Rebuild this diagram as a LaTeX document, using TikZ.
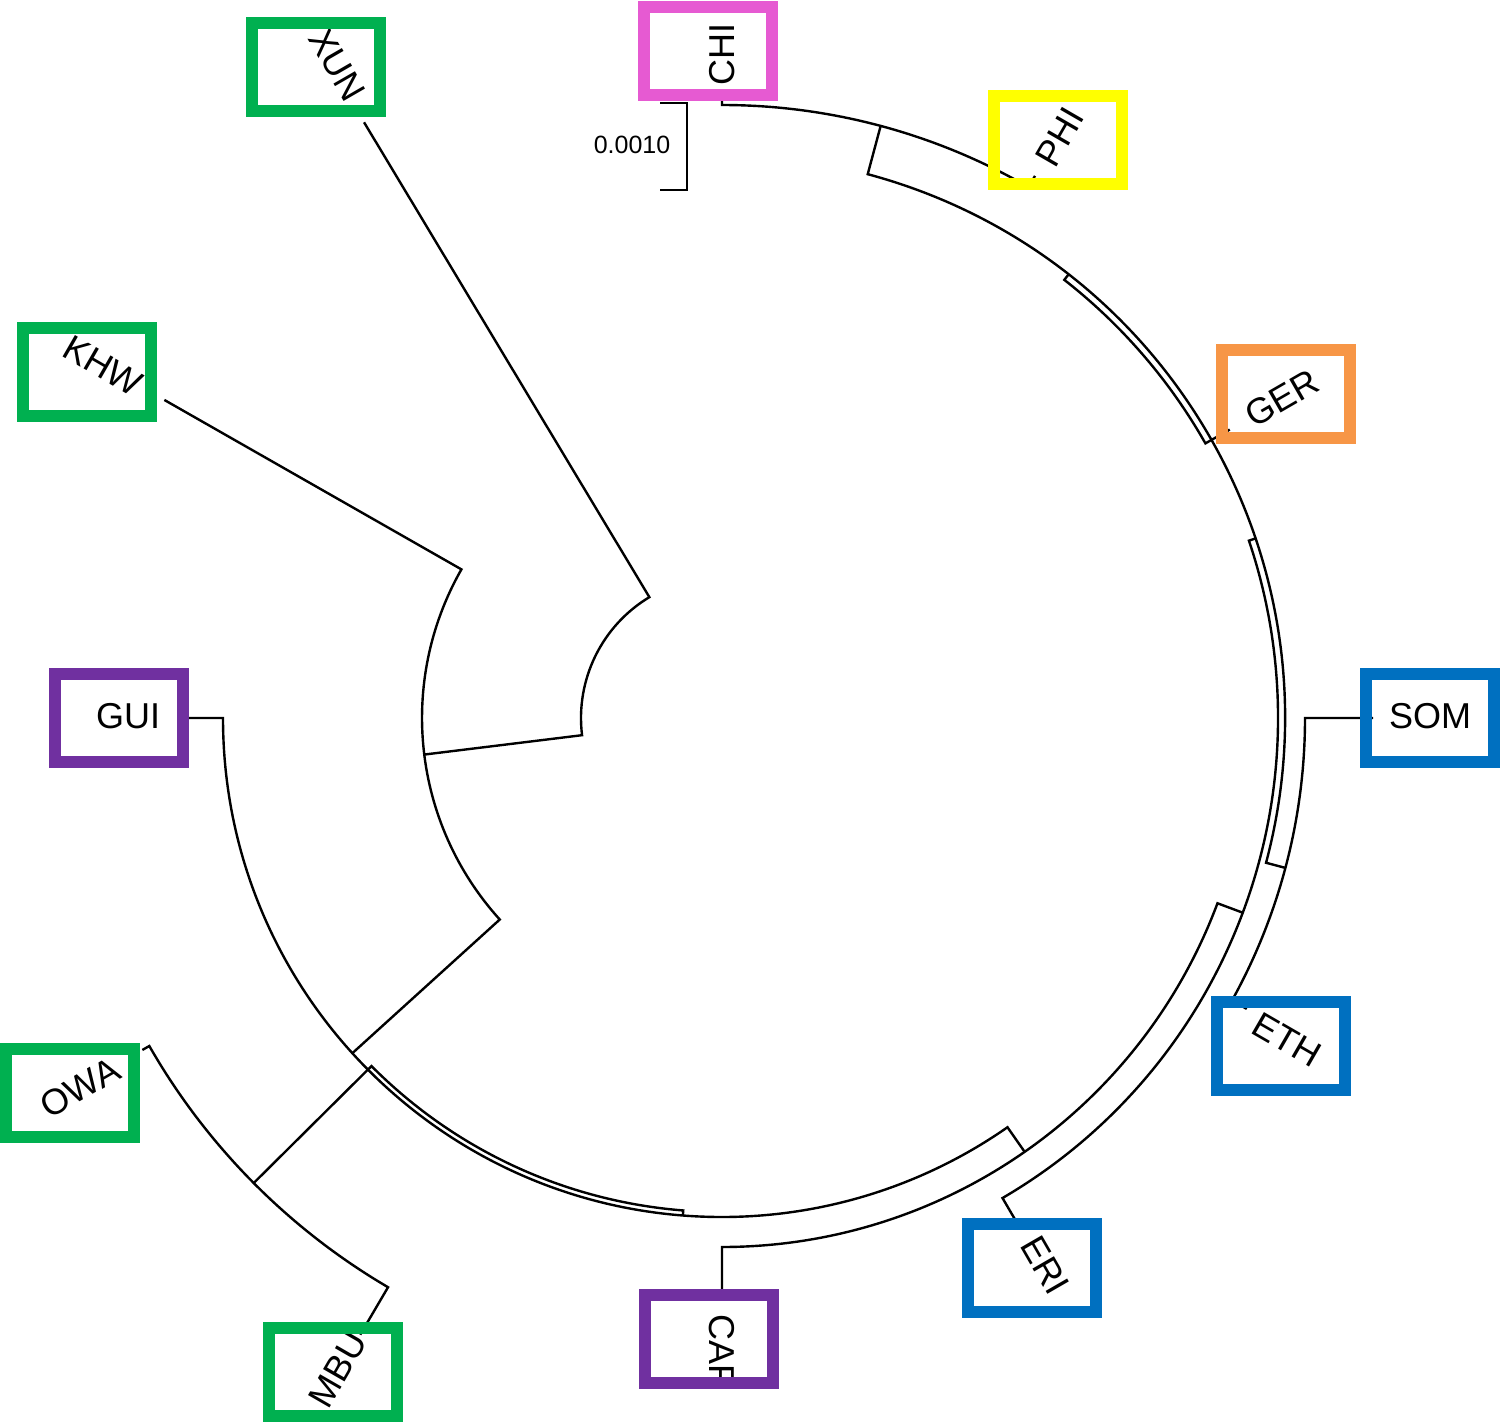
\documentclass[tikz,border=0pt]{standalone}
\usepackage{fontspec}
\setmainfont{Liberation Sans}
\definecolor{cgreen}{RGB}{0,176,80}
\definecolor{cmag}{RGB}{230,90,210}
\definecolor{cyel}{RGB}{255,255,0}
\definecolor{corange}{RGB}{247,150,70}
\definecolor{cblue}{RGB}{0,112,192}
\definecolor{cpurple}{RGB}{112,48,160}
\begin{document}
\begin{tikzpicture}[x=1pt,y=1pt,
  branch/.style={line width=2.4pt},
  lbl/.style={font=\fontsize{36}{36}\selectfont, inner sep=0pt},
  tagbox/.style={draw=#1, line width=12pt, minimum width=128pt, minimum height=88pt, inner sep=0pt}]
\useasboundingbox (0,0) rectangle (1500,-1424);
\fill[white] (0,0) rectangle (1500,-1424);
\begin{scope}[shift={(722,-718)}]
% root
\draw[branch] (121:695) coordinate (tXUN) -- (121:141) arc[start angle=121,end angle=187,radius=141] -- (187:300) coordinate (n300);
% node r=300
\draw[branch] (150.3:642) coordinate (tKHW) -- (150.3:300) arc[start angle=150.3,end angle=222.2,radius=300] -- (222.2:499) coordinate (n499);
% node r=499
\draw[branch] (180:540) coordinate (tGUI) -- (180:499) arc[start angle=180,end angle=304.9,radius=499] -- (304.9:529) coordinate (n529);
\draw[branch] (224.8:499) coordinate (nAf) -- (224.8:494) arc[start angle=224.8,end angle=265.5,radius=494] -- (265.5:499);
% OWA / MBU
\draw[branch] (nAf) -- (224.8:660) coordinate (n660);
\draw[branch] (209.8:668) coordinate (tOWA) -- (209.8:660) arc[start angle=209.8,end angle=239.6,radius=660] -- (239.6:715) coordinate (tMBU);
% node r=529
\draw[branch] (270:575) coordinate (tCAF) -- (270:529) arc[start angle=270,end angle=339.5,radius=529] -- (339.5:556) coordinate (n556);
% node r=556
\draw[branch] (300.3:580) coordinate (tERI) -- (300.3:556) arc[start angle=300.3,end angle=378.6,radius=556] -- (18.6:563) coordinate (n563);
% node r=563
\draw[branch] (345.1:583) coordinate (n583) -- (345.1:563) arc[start angle=345.1,end angle=435,radius=563] -- (75:613) coordinate (n613);
% node r=583
\draw[branch] (331:600) coordinate (tETH) -- (331:583) arc[start angle=331,end angle=360,radius=583] -- (0:651) coordinate (tSOM);
% GER
\draw[branch] (52:563) -- (52:556) arc[start angle=52,end angle=29.6,radius=556] -- (29.6:584) coordinate (tGER);
% CHI / PHI
\draw[branch] (60:626) coordinate (tPHI) -- (60:613) arc[start angle=60,end angle=90,radius=613] -- (90:620) coordinate (tCHI);
\end{scope}
% scale bar
\coordinate (sbA) at (660,-103);
\coordinate (sbB) at (687,-103);
\coordinate (sbC) at (687,-190);
\coordinate (sbD) at (660,-190);
\draw[line width=2pt] (sbA) -- (sbB) -- (sbC) -- (sbD);
\node[font=\fontsize{25}{25}\selectfont, inner sep=0pt] (sbT) at (632,-145) {0.0010};
% labels
\node[lbl, rotate=90] (lCHI) at (722,-54) {CHI};
\node[lbl, rotate=60] (lPHI) at (1060,-137) {PHI};
\node[lbl, rotate=30] (lGER) at (1282,-398) {GER};
\node[lbl] (lSOM) at (1430,-716) {SOM};
\node[lbl, rotate=-30] (lETH) at (1287,-1040) {ETH};
\node[lbl, rotate=-60] (lERI) at (1045,-1265) {ERI};
\node[lbl, rotate=-90] (lCAF) at (722,-1350) {CAF};
\node[lbl, rotate=60] (lMBU) at (338,-1370) {MBU};
\node[lbl, rotate=30] (lOWA) at (80,-1088) {OWA};
\node[lbl] (lGUI) at (128,-716) {GUI};
\node[lbl, rotate=-30] (lKHW) at (103,-366) {KHW};
\node[lbl, rotate=-60] (lXUN) at (337,-65) {XUN};
% boxes
\node[tagbox=cgreen] (bXUN) at (316,-67) {};
\node[tagbox=cmag] (bCHI) at (708,-51) {};
\node[tagbox=cyel] (bPHI) at (1057.5,-140) {};
\node[tagbox=corange] (bGER) at (1286,-394) {};
\node[tagbox=cblue] (bSOM) at (1429.5,-718) {};
\node[tagbox=cblue] (bETH) at (1280.5,-1045.5) {};
\node[tagbox=cblue] (bERI) at (1031.5,-1267.5) {};
\node[tagbox=cpurple] (bCAF) at (708.5,-1338.5) {};
\node[tagbox=cgreen] (bMBU) at (333,-1372) {};
\node[tagbox=cgreen] (bOWA) at (70,-1093) {};
\node[tagbox=cpurple] (bGUI) at (118.5,-718) {};
\node[tagbox=cgreen] (bKHW) at (87,-372) {};
\end{tikzpicture}
\end{document}
